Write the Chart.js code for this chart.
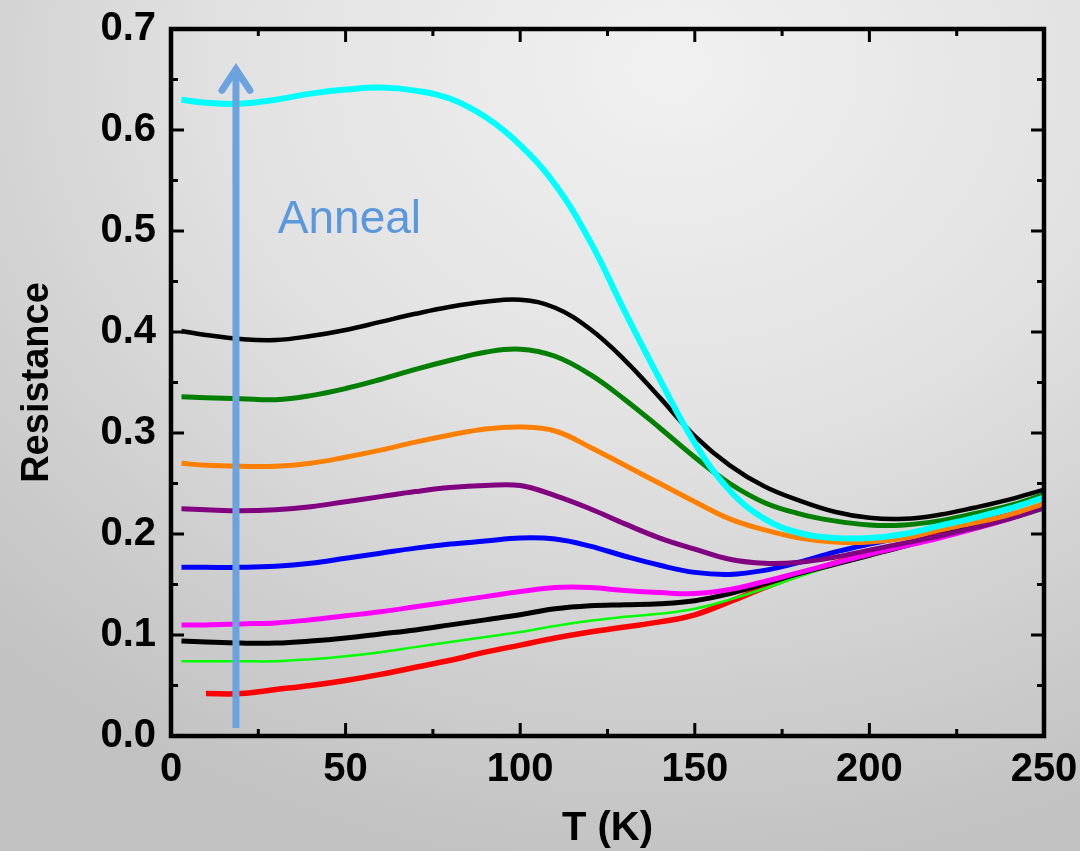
<!DOCTYPE html>
<html lang="en">
<head>
  <meta charset="UTF-8" />
  <title>Resistance vs T</title>
  <style>
    body {
      margin: 0;
      padding: 0;
      width: 1080px;
      height: 851px;
      overflow: hidden;
      background: radial-gradient(ellipse 90% 95% at 62% 8%, #f1f1f1 0%, #e2e2e2 45%, #cdcdcd 80%, #c2c2c2 100%);
    }
    #chart {
      display: block;
    }
  </style>
  <script src="https://cdn.jsdelivr.net/npm/chart.js"></script>
</head>
<body>
  <canvas id="chart" width="1080" height="851"></canvas>
  <script>
    // temperatures (K) shared by all curves
    const temps = [3, 10, 20, 30, 40, 50, 60, 70, 80, 90, 100, 110, 120, 130, 140, 150, 160, 170, 180, 190, 200, 210, 220, 230, 240, 250];

    // resistance curves, top to bottom (last anneal first)
    const cyanR    = [0.630, 0.627, 0.626, 0.630, 0.636, 0.640, 0.642, 0.639, 0.631, 0.613, 0.585, 0.546, 0.490, 0.420, 0.353, 0.290, 0.243, 0.215, 0.201, 0.196, 0.196, 0.200, 0.208, 0.216, 0.225, 0.236];
    const black1R  = [0.401, 0.397, 0.393, 0.392, 0.396, 0.402, 0.410, 0.418, 0.425, 0.430, 0.432, 0.424, 0.403, 0.372, 0.335, 0.297, 0.268, 0.247, 0.233, 0.222, 0.216, 0.215, 0.219, 0.226, 0.234, 0.244];
    const greenR   = [0.336, 0.335, 0.334, 0.333, 0.337, 0.344, 0.353, 0.363, 0.372, 0.380, 0.383, 0.376, 0.358, 0.333, 0.305, 0.276, 0.250, 0.231, 0.220, 0.213, 0.209, 0.209, 0.213, 0.220, 0.228, 0.239];
    const orangeR  = [0.270, 0.268, 0.267, 0.267, 0.270, 0.276, 0.283, 0.291, 0.298, 0.304, 0.306, 0.302, 0.286, 0.268, 0.250, 0.232, 0.215, 0.204, 0.196, 0.192, 0.192, 0.196, 0.204, 0.211, 0.219, 0.230];
    const purpleR  = [0.225, 0.224, 0.223, 0.224, 0.227, 0.232, 0.237, 0.242, 0.246, 0.248, 0.248, 0.238, 0.225, 0.210, 0.196, 0.185, 0.175, 0.171, 0.172, 0.177, 0.184, 0.191, 0.198, 0.206, 0.215, 0.226];
    const blueR    = [0.167, 0.167, 0.167, 0.168, 0.171, 0.176, 0.181, 0.186, 0.190, 0.193, 0.196, 0.195, 0.188, 0.178, 0.169, 0.162, 0.160, 0.164, 0.172, 0.182, 0.190, 0.197, 0.204, 0.211, 0.219, 0.228];
    const magentaR = [0.110, 0.110, 0.111, 0.112, 0.115, 0.119, 0.123, 0.128, 0.133, 0.138, 0.143, 0.147, 0.147, 0.144, 0.142, 0.141, 0.145, 0.153, 0.162, 0.171, 0.180, 0.188, 0.196, 0.205, 0.215, 0.226];
    const black2R  = [0.094, 0.093, 0.092, 0.092, 0.094, 0.097, 0.101, 0.105, 0.110, 0.115, 0.120, 0.126, 0.129, 0.130, 0.131, 0.134, 0.141, 0.151, 0.161, 0.170, 0.179, 0.188, 0.198, 0.207, 0.216, 0.226];
    const limeR    = [0.074, 0.074, 0.074, 0.074, 0.076, 0.079, 0.083, 0.088, 0.093, 0.098, 0.103, 0.109, 0.114, 0.118, 0.121, 0.126, 0.135, 0.146, 0.158, 0.169, 0.178, 0.187, 0.196, 0.205, 0.214, 0.224];
    const redR     = [null, 0.042, 0.042, 0.046, 0.050, 0.055, 0.061, 0.068, 0.075, 0.083, 0.090, 0.097, 0.103, 0.108, 0.113, 0.120, 0.133, 0.147, 0.160, 0.171, 0.181, 0.190, 0.199, 0.208, 0.217, 0.227];

    // "Anneal" arrow and its label
    const arrowT = 18.6;
    const arrowR = [0.008, 0.664];
    const annealLabel = 'Anneal';
    const annealAt = [30.6, 0.498];

    const FONT = '"Liberation Sans", Arial, sans-serif';

    function series(values, color, width) {
      return {
        data: temps.map((t, i) => ({ x: t, y: values[i] })),
        borderColor: color,
        borderWidth: width,
        pointRadius: 0,
        fill: false,
        spanGaps: false,
        tension: 0.4
      };
    }

    // first dataset is painted last, so the cyan curve sits on top
    const datasets = [
      series(cyanR, '#00ffff', 6),
      series(black1R, '#000000', 4.5),
      series(greenR, '#007f00', 5),
      series(orangeR, '#ff8000', 5),
      series(purpleR, '#800080', 5),
      series(blueR, '#0000ff', 5),
      series(magentaR, '#ff00ff', 5),
      series(black2R, '#000000', 5),
      series(limeR, '#00ff00', 2.5),
      series(redR, '#ff0000', 5.5)
    ];

    // frame, inside ticks, arrow and label
    const decorations = {
      id: 'decorations',
      afterDatasetsDraw(chart) {
        const { ctx, chartArea: a, scales: { x, y } } = chart;
        ctx.save();

        // arrow
        const ax = x.getPixelForValue(arrowT);
        const y0 = y.getPixelForValue(arrowR[0]);
        const y1 = y.getPixelForValue(arrowR[1]);
        ctx.strokeStyle = '#6ca3df';
        ctx.lineWidth = 7;
        ctx.lineCap = 'butt';
        ctx.beginPath();
        ctx.moveTo(ax, y0);
        ctx.lineTo(ax, y1 + 3);
        ctx.stroke();
        ctx.lineCap = 'round';
        ctx.lineJoin = 'miter';
        ctx.beginPath();
        ctx.moveTo(ax - 14, y1 + 25);
        ctx.lineTo(ax, y1 + 4);
        ctx.lineTo(ax + 14, y1 + 25);
        ctx.stroke();

        ctx.fillStyle = '#5b97dd';
        ctx.font = '46px ' + FONT;
        ctx.textAlign = 'left';
        ctx.textBaseline = 'alphabetic';
        ctx.fillText(annealLabel, x.getPixelForValue(annealAt[0]), y.getPixelForValue(annealAt[1]));

        // ticks on all four sides, pointing in
        ctx.strokeStyle = '#000';
        ctx.lineWidth = 3;
        ctx.lineCap = 'butt';
        ctx.beginPath();
        for (let v = 25; v < 250; v += 25) {
          const px = x.getPixelForValue(v);
          const len = v % 50 === 0 ? 13 : 7;
          ctx.moveTo(px, a.bottom); ctx.lineTo(px, a.bottom - len);
          ctx.moveTo(px, a.top); ctx.lineTo(px, a.top + len);
        }
        for (let k = 1; k < 14; k++) {
          const py = y.getPixelForValue(k * 0.05);
          const len = k % 2 === 0 ? 13 : 7;
          ctx.moveTo(a.left, py); ctx.lineTo(a.left + len, py);
          ctx.moveTo(a.right, py); ctx.lineTo(a.right - len, py);
        }
        ctx.stroke();

        ctx.lineWidth = 4.5;
        ctx.lineJoin = 'miter';
        ctx.strokeRect(a.left, a.top, a.right - a.left, a.bottom - a.top);
        ctx.restore();
      }
    };

    // keep the plot box where the reference has it
    function noOverflow(scale) {
      scale.paddingTop = 0;
      scale.paddingBottom = 0;
      scale.paddingLeft = 0;
      scale.paddingRight = 0;
    }

    new Chart(document.getElementById('chart'), {
      type: 'line',
      data: { datasets: datasets },
      options: {
        responsive: false,
        animation: false,
        events: [],
        layout: { padding: { top: 29, right: 36, left: 0, bottom: 0 } },
        plugins: { legend: { display: false }, tooltip: { enabled: false } },
        scales: {
          x: {
            type: 'linear',
            min: 0,
            max: 250,
            grid: { display: false, drawTicks: false },
            border: { display: false },
            ticks: {
              stepSize: 50,
              padding: 10,
              color: '#000',
              font: { family: FONT, size: 40, weight: 'bold' },
              maxRotation: 0
            },
            title: {
              display: true,
              text: 'T (K)',
              color: '#000',
              padding: { top: 0, bottom: -2 },
              font: { family: FONT, size: 40, weight: 'bold' }
            },
            afterFit(scale) { scale.height = 115; noOverflow(scale); }
          },
          y: {
            min: 0,
            max: 0.7,
            grid: { display: false, drawTicks: false },
            border: { display: false },
            ticks: {
              stepSize: 0.1,
              padding: 15,
              color: '#000',
              font: { family: FONT, size: 40, weight: 'bold' },
              callback: v => v.toFixed(1)
            },
            title: {
              display: true,
              text: 'Resistance',
              color: '#000',
              padding: { top: 15, bottom: 0 },
              font: { family: FONT, size: 38, weight: 'bold' }
            },
            afterFit(scale) { scale.width = 171; noOverflow(scale); }
          }
        }
      },
      plugins: [decorations]
    });
  </script>
</body>
</html>
